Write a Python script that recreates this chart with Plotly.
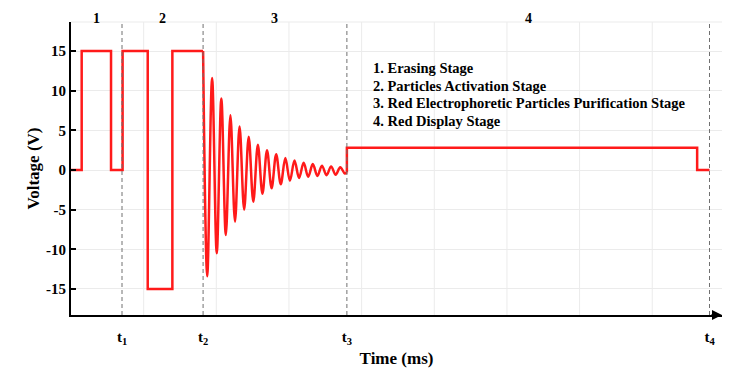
import plotly.graph_objects as go

# ---- data ----
# stage boundaries (time units, arbitrary ms scale)
t_marks = [7.02, 18.18, 37.97, 87.88]
t_labels = ["t<sub>1</sub>", "t<sub>2</sub>", "t<sub>3</sub>", "t<sub>4</sub>"]
stage_names = ["1", "2", "3", "4"]

# stages 1-2: square pulses (step changes)
step_t = [0.0, 1.47, 5.51, 7.10, 10.56, 13.95, 18.18]
step_v = [0.0, 15.0, 0.0, 15.0, -15.0, 15.0, 15.0]

# stage 3: damped oscillation, extrema
osc_t = [18.18, 18.75, 19.42, 20.06, 20.69, 21.31, 21.94, 22.57, 23.20, 23.83,
         24.46, 25.09, 25.72, 26.35, 26.98, 27.61, 28.24, 28.87, 29.50, 30.13,
         30.76, 31.39, 32.02, 32.65, 33.28, 33.91, 34.54, 35.17, 35.80, 36.43,
         37.06, 37.69, 37.97]
osc_v = [15.0, -13.4, 11.6, -10.5, 9.0, -8.2, 6.9, -6.5, 5.5, -5.0,
         4.2, -4.0, 3.2, -3.0, 2.5, -2.3, 2.0, -1.8, 1.5, -1.35,
         1.2, -1.0, 0.9, -0.85, 0.75, -0.75, 0.55, -0.65, 0.45, -0.6,
         0.35, -0.45, -0.3]

# stage 4: red display level
disp_t = [37.97, 37.97, 86.18, 87.88]
disp_v = [-0.3, 2.8, 0.0, 0.0]

legend_lines = ["1. Erasing Stage",
                "2. Particles Activation Stage",
                "3. Red Electrophoretic Particles Purification Stage",
                "4. Red Display Stage"]

y_ticks = [-15, -10, -5, 0, 5, 10, 15]
y_tick_text = ["-15", "-10", "-5", "0", "5", "10", "15"]
x_grid = [10, 20, 30, 40, 50, 60, 70, 80]

FONT = "Liberation Serif"
RED = "#ff1a1a"

fig = go.Figure()
fig.add_trace(go.Scatter(x=step_t, y=step_v, mode="lines",
                         line=dict(color=RED, width=2.5, shape="hv"),
                         showlegend=False, hoverinfo="skip"))
fig.add_trace(go.Scatter(x=osc_t, y=osc_v, mode="lines",
                         line=dict(color=RED, width=2.5, shape="spline", smoothing=1.0),
                         showlegend=False, hoverinfo="skip"))
fig.add_trace(go.Scatter(x=disp_t, y=disp_v, mode="lines",
                         line=dict(color=RED, width=2.5, shape="hv"),
                         showlegend=False, hoverinfo="skip"))

shapes = []
# light vertical grid lines
for g in x_grid:
    shapes.append(dict(type="line", xref="x", yref="y domain", x0=g, x1=g, y0=0, y1=1,
                       line=dict(color="#ebebeb", width=1), layer="below"))
# faint top line
shapes.append(dict(type="line", xref="x domain", yref="y domain", x0=0, x1=1, y0=1, y1=1,
                   line=dict(color="#ebebeb", width=1), layer="below"))
# dashed stage boundaries
for t in t_marks:
    shapes.append(dict(type="line", xref="x", yref="y domain", x0=t, x1=t, y0=0, y1=1,
                       line=dict(color="#707070", width=1, dash="4px,3px")))

annotations = []
bounds = [0.0] + t_marks
for i, name in enumerate(stage_names):
    mid = (bounds[i] + bounds[i + 1]) / 2
    annotations.append(dict(x=mid, y=1, xref="x", yref="y domain", yanchor="middle",
                            text=name, showarrow=False, yshift=4,
                            font=dict(family=FONT, size=14, color="black", weight="bold")))
for i, line in enumerate(legend_lines):
    annotations.append(dict(x=41.3, y=12.86, xref="x", yref="y", xanchor="left",
                            yanchor="middle", yshift=-17.7 * i, align="left",
                            text=line, showarrow=False,
                            font=dict(family=FONT, size=14.5, color="black", weight="bold")))
# arrow head at end of x axis
annotations.append(dict(x=1, y=0, xref="x domain", yref="y domain", ax=-12, ay=0,
                        axref="pixel", ayref="pixel", showarrow=True, arrowhead=2,
                        arrowsize=1, arrowwidth=2, arrowcolor="black", text=""))

# the page places the figure 8px from the top-left corner
fig.update_layout(
    width=732, height=365,
    margin=dict(l=63, r=18, t=14, b=58),
    paper_bgcolor="white", plot_bgcolor="white",
    shapes=shapes, annotations=annotations,
    xaxis=dict(range=[0, 89.6], showgrid=False, zeroline=False, automargin=False,
               showline=True, linecolor="black", linewidth=2,
               tickvals=t_marks, ticktext=t_labels, ticks="", ticklabelstandoff=7,
               tickfont=dict(family=FONT, size=15, color="black", weight="bold"),
               title=dict(text="Time (ms)", standoff=6,
                          font=dict(family=FONT, size=17, color="black", weight="bold"))),
    yaxis=dict(range=[-18.28, 18.66], tickvals=y_ticks, ticktext=y_tick_text,
               showgrid=True, automargin=False,
               gridcolor="#ebebeb", gridwidth=1, zeroline=False,
               showline=True, linecolor="black", linewidth=2,
               ticks="inside", ticklen=5, tickwidth=2, tickcolor="black",
               ticklabelstandoff=0,
               tickfont=dict(family=FONT, size=15, color="black", weight="bold"),
               title=dict(text="Voltage (V)", standoff=2,
                          font=dict(family=FONT, size=17, color="black", weight="bold"))),
)

fig.write_html("out.html")
